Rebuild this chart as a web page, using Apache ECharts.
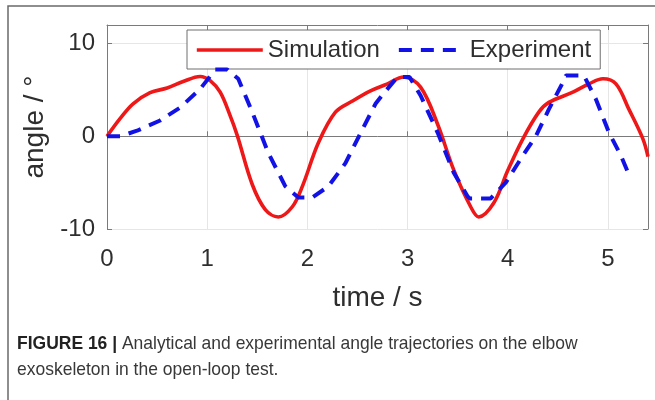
<!DOCTYPE html>
<html>
<head>
<meta charset="utf-8">
<script src="https://cdn.jsdelivr.net/npm/echarts@6/dist/echarts.min.js"></script>
<style>
  html, body { margin: 0; padding: 0; background: #ffffff; }
  #chart { width: 655px; height: 400px; }
</style>
</head>
<body>
<div id="chart"></div>
<script>
// Elbow exoskeleton, open-loop test: simulated vs measured joint angle
const timeSim = [0, 0.13, 0.26, 0.43, 0.6, 0.76, 0.93, 1.03, 1.13, 1.23, 1.3, 1.45, 1.58, 1.71, 1.85, 1.95,
  2.11, 2.28, 2.45, 2.63, 2.8, 2.96, 3.13, 3.3, 3.46, 3.63, 3.71, 3.86, 4.0, 4.15, 4.31, 4.41, 4.65,
  4.81, 4.95, 5.08, 5.21, 5.35, 5.4];
const angleSim = [0, 1.9, 3.5, 4.7, 5.2, 5.9, 6.45, 6.0, 4.75, 2.2, 0.1, -5.2, -7.9, -8.7, -7.6, -5.4,
  -0.7, 2.6, 3.8, 4.9, 5.65, 6.4, 5.3, 1.3, -3.6, -7.6, -8.7, -7.2, -3.7, -0.3, 2.6, 3.65, 4.75,
  5.65, 6.2, 5.65, 2.9, -0.3, -2.2];

const timeExp = [0, 0.13, 0.3, 0.53, 0.73, 0.93, 1.06, 1.08, 1.2, 1.31, 1.45, 1.61, 1.78, 1.91, 2.05,
  2.21, 2.38, 2.55, 2.68, 2.76, 2.9, 3.02, 3.13, 3.3, 3.46, 3.6, 3.62, 3.83, 3.98, 4.15, 4.28, 4.41,
  4.55, 4.58, 4.76, 4.88, 5.01, 5.13, 5.2];
const angleExp = [0, 0, 0.6, 1.7, 3.1, 5.1, 6.9, 7.2, 7.2, 6.2, 2.6, -1.8, -5.4, -6.6, -6.6,
  -5.4, -2.9, 0.76, 3.5, 4.6, 6.4, 6.4, 4.4, 0.4, -3.9, -6.5, -6.7, -6.7, -5.0, -2.1, 0, 2.9,
  5.8, 6.55, 6.55, 4.0, 0.4, -2.1, -3.9];

const xTicks = [0, 1, 2, 3, 4, 5];
const yTicks = [-10, 0, 10];

const pairs = (xs, ys) => xs.map((x, i) => [x, ys[i]]);

const axisGray = '#7a7a7a';
const labelColor = '#2e2e2e';
const fam = '"Liberation Sans", Arial, Helvetica, sans-serif';

const chart = echarts.init(document.getElementById('chart'), null, { renderer: 'canvas' });

chart.setOption({
  animation: false,
  backgroundColor: '#ffffff',
  grid: { left: 107, top: 25, right: 7, bottom: 171, show: false },
  legend: {
    data: ['Simulation', 'Experiment'],
    left: 187, top: 30,
    padding: [8, 9, 7, 8],
    itemGap: 17,
    itemWidth: 66,
    itemHeight: 14,
    backgroundColor: '#ffffff',
    borderColor: '#6e6e6e',
    borderWidth: 1,
    borderRadius: 0,
    itemStyle: { opacity: 0 },
    lineStyle: { width: 'inherit' },
    textStyle: { fontSize: 24, color: labelColor, fontFamily: fam }
  },
  xAxis: [{
    type: 'value', min: 0, max: 5.4, interval: 1,
    name: 'time / s', nameLocation: 'middle', nameGap: 55,
    nameTextStyle: { fontSize: 28, color: labelColor, fontFamily: fam },
    axisLine: { show: true, lineStyle: { color: axisGray, width: 1 } },
    axisTick: { show: true, inside: true, length: 5, lineStyle: { color: axisGray }, customValues: xTicks },
    axisLabel: { margin: 18, fontSize: 24, color: labelColor, fontFamily: fam, customValues: xTicks },
    splitLine: { show: true, lineStyle: { color: '#e6e6e6', width: 1 } }
  }, {
    type: 'value', min: 0, max: 5.4, interval: 1, position: 'top',
    axisLine: { show: true, onZero: false, lineStyle: { color: axisGray, width: 1 } },
    axisTick: { show: true, inside: true, length: 5, lineStyle: { color: axisGray }, customValues: xTicks },
    axisLabel: { show: false },
    splitLine: { show: false }
  }],
  yAxis: [{
    type: 'value', min: -10, max: 12, interval: 10,
    name: 'angle / °', nameLocation: 'middle', nameGap: 57, nameRotate: 90,
    nameTextStyle: { fontSize: 28, color: labelColor, fontFamily: fam },
    axisLine: { show: true, onZero: false, lineStyle: { color: axisGray, width: 1 } },
    axisTick: { show: true, inside: true, length: 5, lineStyle: { color: axisGray }, customValues: yTicks },
    axisLabel: { margin: 12, fontSize: 24, color: labelColor, fontFamily: fam, customValues: yTicks },
    splitLine: { show: true, lineStyle: { color: '#e6e6e6', width: 1 } }
  }, {
    type: 'value', min: -10, max: 12, interval: 10, position: 'right',
    axisLine: { show: true, onZero: false, lineStyle: { color: axisGray, width: 1 } },
    axisTick: { show: true, inside: true, length: 5, lineStyle: { color: axisGray }, customValues: yTicks },
    axisLabel: { show: false },
    splitLine: { show: false }
  }],
  series: [{
    name: 'Simulation', type: 'line',
    data: pairs(timeSim, angleSim),
    smooth: 0.35, symbol: 'none',
    lineStyle: { color: '#ee1818', width: 3.6 },
    itemStyle: { color: '#ee1818' },
    z: 3
  }, {
    name: 'Experiment', type: 'line',
    data: pairs(timeExp, angleExp),
    smooth: false, symbol: 'none',
    lineStyle: { color: '#1212e6', width: 4, type: [13, 9] },
    itemStyle: { color: '#1212e6' },
    z: 4
  }],
  graphic: [{
    type: 'rect', silent: true, z: -1,
    shape: { x: 8, y: 6, width: 720, height: 500 },
    style: { fill: 'none', stroke: '#6a6a6a', lineWidth: 1.5 }
  }, {
    type: 'text', x: 17, y: 334, scaleX: 0.92,
    style: {
      text: '{b|FIGURE 16 |} Analytical and experimental angle trajectories on the elbow',
      fontSize: 19, fontFamily: fam, fill: '#383838',
      rich: { b: { fontSize: 19, fontWeight: 'bold', fontFamily: fam, fill: '#222222' } }
    }
  }, {
    type: 'text', x: 17, y: 360, scaleX: 0.92,
    style: {
      text: 'exoskeleton in the open-loop test.',
      fontSize: 19, fontFamily: fam, fill: '#383838'
    }
  }]
});
</script>
</body>
</html>
